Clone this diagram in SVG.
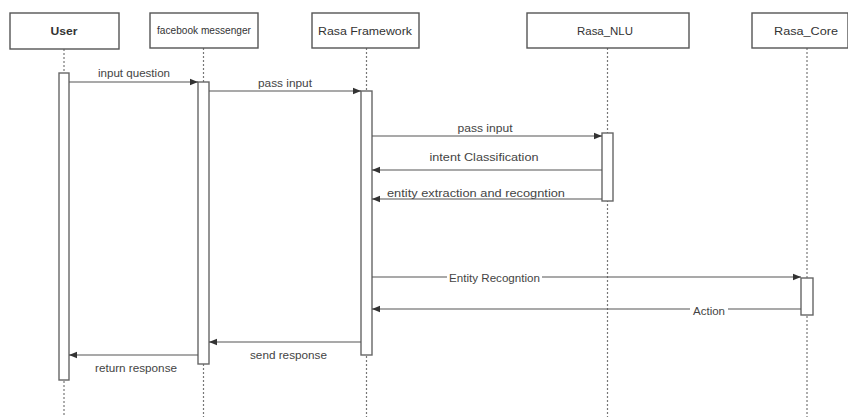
<svg xmlns="http://www.w3.org/2000/svg" width="848" height="417" viewBox="0 0 848 417">
<style>
.box{fill:#fff;stroke:#555;stroke-width:1.4}
.life{stroke:#777;stroke-width:1.2;stroke-dasharray:2 2;fill:none}
.act{fill:#fff;stroke:#666;stroke-width:1.4}
.msg{stroke:#555;stroke-width:1.2;fill:none}
.t{font-family:"Liberation Sans",Arial,sans-serif;font-size:10px;fill:#444;text-anchor:middle}
.h{font-family:"Liberation Sans",Arial,sans-serif;font-size:11px;fill:#333;text-anchor:middle}
.bg{fill:#fff}
</style>
<defs>
<marker id="ah" viewBox="0 0 10 10" refX="10" refY="5" markerWidth="8" markerHeight="8" markerUnits="userSpaceOnUse" orient="auto">
<path d="M0,1 L10,5 L0,9 Z" fill="#333"/>
</marker>
</defs>
<g id="lifelines">
<line class="life" x1="64" y1="49" x2="64" y2="417"/>
<line class="life" x1="203.5" y1="48" x2="203.5" y2="417"/>
<line class="life" x1="366.5" y1="48" x2="366.5" y2="417"/>
<line class="life" x1="607.5" y1="48" x2="607.5" y2="417"/>
<line class="life" x1="807" y1="48" x2="807" y2="417"/>
</g>
<g id="user">
<rect class="box" x="10" y="13" width="109" height="36"/>
<text class="h" x="64" y="35" font-weight="bold" textLength="27" lengthAdjust="spacingAndGlyphs">User</text>
<rect class="act" x="59" y="73" width="10" height="307"/>
</g>
<g id="facebook_messenger">
<rect class="box" x="150" y="13" width="108" height="35"/>
<text class="h" x="204" y="34" font-size="8px" textLength="94" lengthAdjust="spacingAndGlyphs">facebook messenger</text>
<rect class="act" x="198" y="82" width="11" height="282"/>
</g>
<g id="rasa_framework">
<rect class="box" x="312" y="13" width="107" height="35"/>
<text class="h" x="365" y="35" textLength="94" lengthAdjust="spacingAndGlyphs">Rasa Framework</text>
<rect class="act" x="361" y="91" width="11" height="264"/>
</g>
<g id="rasa_nlu">
<rect class="box" x="527" y="13" width="162" height="35"/>
<text class="h" x="605" y="35" textLength="56" lengthAdjust="spacingAndGlyphs">Rasa_NLU</text>
<rect class="act" x="602" y="133" width="11" height="68"/>
</g>
<g id="rasa_core">
<rect class="box" x="752" y="13" width="96" height="35"/>
<text class="h" x="806" y="35" textLength="64" lengthAdjust="spacingAndGlyphs">Rasa_Core</text>
<rect class="act" x="801" y="278" width="12" height="37"/>
</g>
<g id="connectors">
<line class="msg" x1="69" y1="82" x2="198" y2="82" marker-end="url(#ah)"/>
<text class="t" x="134" y="77" textLength="72" lengthAdjust="spacingAndGlyphs">input question</text>
<line class="msg" x1="209" y1="91" x2="361" y2="91" marker-end="url(#ah)"/>
<text class="t" x="285" y="87" textLength="54" lengthAdjust="spacingAndGlyphs">pass input</text>
<line class="msg" x1="372" y1="136" x2="602" y2="136" marker-end="url(#ah)"/>
<text class="t" x="485" y="132" textLength="55" lengthAdjust="spacingAndGlyphs">pass input</text>
<line class="msg" x1="602" y1="170" x2="372" y2="170" marker-end="url(#ah)"/>
<text class="t" x="484" y="161" textLength="109" lengthAdjust="spacingAndGlyphs">intent Classification</text>
<line class="msg" x1="602" y1="199" x2="372" y2="199" marker-end="url(#ah)"/>
<text class="t" x="476" y="197" textLength="178" lengthAdjust="spacingAndGlyphs">entity extraction and recogntion</text>
<line class="msg" x1="372" y1="277" x2="801" y2="277" marker-end="url(#ah)"/>
<rect class="bg" x="447" y="272" width="95" height="11"/>
<text class="t" x="494.5" y="282" textLength="91" lengthAdjust="spacingAndGlyphs">Entity Recogntion</text>
<line class="msg" x1="801" y1="309" x2="372" y2="309" marker-end="url(#ah)"/>
<rect class="bg" x="690" y="305" width="38" height="11"/>
<text class="t" x="709" y="315" textLength="32" lengthAdjust="spacingAndGlyphs">Action</text>
<line class="msg" x1="361" y1="342" x2="209" y2="342" marker-end="url(#ah)"/>
<text class="t" x="288.5" y="359" textLength="77" lengthAdjust="spacingAndGlyphs">send response</text>
<line class="msg" x1="198" y1="355" x2="69" y2="355" marker-end="url(#ah)"/>
<text class="t" x="136" y="372" textLength="82" lengthAdjust="spacingAndGlyphs">return response</text>
</g>
</svg>
